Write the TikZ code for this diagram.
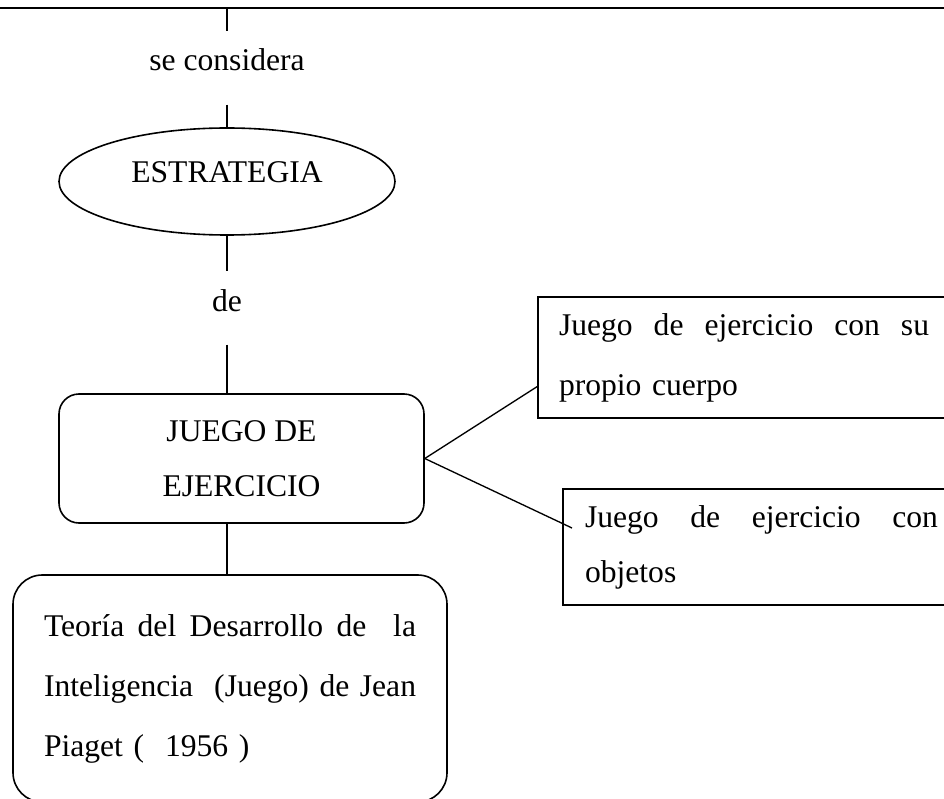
\documentclass[tikz,border=0pt]{standalone}
\usepackage{fontspec}
\setmainfont{Liberation Serif}
\usetikzlibrary{shapes.geometric}
\newcommand{\jsp}{\hfill\ }
\begin{document}
\begin{tikzpicture}[x=0.75pt,y=-0.75pt,line width=1pt,
			every node/.style={font=\fontsize{23.7pt}{45pt}\selectfont},
			lbl/.style={inner sep=0pt,anchor=base,text height=29.25pt,text depth=24.75pt},
			caja/.style={draw,line width=1.2pt,inner sep=0pt}]
			\useasboundingbox (0,0) rectangle (944,798);
			\coordinate (izq) at (0,8);
			\coordinate (der) at (944,8);
			\coordinate (arriba) at (227,8);
			\draw[line width=1.3pt] (izq) -- (der);
			% columna central
			\node[lbl] (secons) at (227,71) {se considera};
			\node[caja,ellipse,minimum width=252pt,minimum height=80.25pt,
			text height=15.75pt,text depth=13.5pt] (estr) at (227,181.5) {ESTRATEGIA};
			\node[lbl] (de) at (227,311) {de};
			\node[caja,rounded corners=15pt,minimum width=273.75pt,minimum height=96.75pt,
			align=center,font=\fontsize{23.7pt}{41.25pt}\selectfont] (juego) at (241.5,458.5)
			{JUEGO DE\\EJERCICIO};
			\node[caja,rounded corners=22pt,text width=279pt,minimum width=325.5pt,
			minimum height=170.25pt,align=left] (teoria) at (230,688.5)
			{\makebox[279pt][l]{Teoría\jsp del\jsp Desarrollo\jsp de\jsp\jsp la}\\
			\makebox[279pt][l]{Inteligencia\jsp\jsp (Juego)\jsp de\jsp Jean}\\
			Piaget (\ \ 1956 )};
			% cajas de la derecha
			\node[caja,inner xsep=15.75pt,text width=277.5pt,minimum height=90.75pt,
			align=left] (cuerpo) at (744,357.5)
			{\makebox[277.5pt][l]{Juego\jsp de\jsp ejercicio\jsp con\jsp su}\\propio cuerpo};
			\node[caja,inner xsep=16.5pt,text width=264.75pt,minimum height=87pt,
			align=left,font=\fontsize{23.7pt}{41.25pt}\selectfont] (objetos) at (761.5,547)
			{\makebox[264.75pt][l]{Juego\jsp de\jsp ejercicio\jsp con}\\objetos};
			\coordinate (objin) at (572,528);
			\draw (arriba) -- (secons);
			\draw (secons) -- (estr);
			\draw (estr) -- (de);
			\draw (de) -- (de |- juego.north);
			\draw (de |- juego.south) -- (de |- teoria.north);
			\draw (juego.east) -- (cuerpo.188);
			\draw (juego.east) -- (objin);
\end{tikzpicture}
\end{document}
